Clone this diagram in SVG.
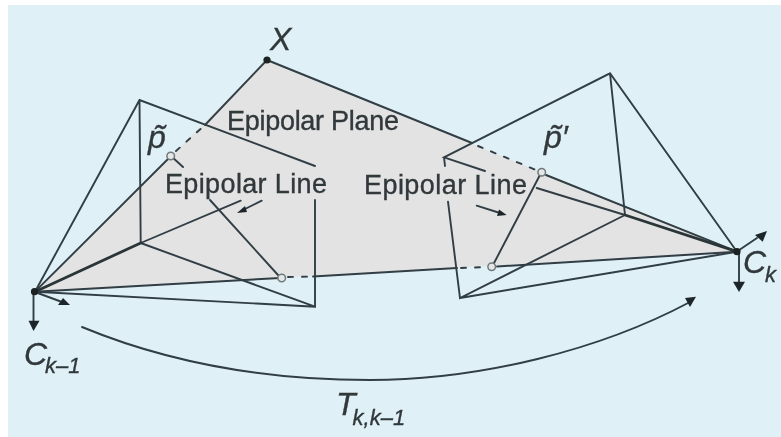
<svg xmlns="http://www.w3.org/2000/svg" width="781" height="437" viewBox="0 0 781 437">
<defs><filter id="soft" x="0" y="0" width="100%" height="100%"><feGaussianBlur stdDeviation="0.45"/></filter></defs>
<style>
.l{fill:none;stroke:#303e44;stroke-width:1.9;stroke-linecap:round}
.t{stroke-width:2.8;stroke:#2a3438}
.d{stroke-dasharray:5 9}
.h{fill:#1f2629;stroke:none}
.o{fill:#e6e6e6;stroke:#6f7a7c;stroke-width:1.5}
.k{fill:#1c2022;stroke:none}
text{font-family:"Liberation Sans",Arial,sans-serif;fill:#30373a;stroke:#30373a;stroke-width:.35}
.e{font-size:27px}
.i{font-style:italic;font-size:32px}
.s{font-style:italic;font-size:22px}
</style>
<rect width="781" height="437" fill="#fff"/>
<rect x="8" y="5" width="773" height="432" fill="#dff1f6"/>
<g id="diagram" filter="url(#soft)">
<polygon id="epipolar-plane" points="267,60 541.7,172.3 737,251.7 35,291.7 170.7,156" fill="#e3e3e3"/>
<g id="connectors">
<path class="l" d="M205,125L267,60M267,60L472,143M35,291.7L170,157M171,156L183,167M210,200L278,275"/>
<path class="l d" d="M176,151L205,125M478,146L536,170M288,277L313,276.5M461,268L488,267"/>
<path class="l" d="M35,291.7L280,278M313,276.5L457,268M497,266.5L737,251.7M546,175L737,251.7M541,173L493,265"/>
<path class="l" d="M35,291.7L139.5,100L315,166M139.5,100L140.7,243M140.7,243L240.7,200.7M140.7,243L315,306.7L315,200M35,291.7L315,306.7"/>
<path class="l t" d="M35,291.7L140.7,243"/>
<path class="l" d="M737,251.7L610,73.3L444,157.3L485,171M444,157.3L445,166M610,73.3L625,215M625,215L460,298L448,201.7M460,298L737,251.7M536.7,188L625,215"/>
<path class="l t" d="M625,215L737,251.7"/>
<path class="l" d="M261.7,200.7L244,209.5M476.7,205.7L500,213"/>
<polygon class="h" points="237,213 245,206 247,212"/>
<polygon class="h" points="506.7,215 497,216 499,209.5"/>
<path class="l" d="M82,327Q210,380 370,380C480,380 600,350 690,302"/>
<polygon class="h" points="696,296.7 685,298 690,307"/>
<path class="l" d="M33.5,292V322M35,292L62,302M739,253V283M737,251.5L757,238"/>
<polygon class="h" points="28.5,320.7 39.5,320.7 33.5,331"/>
<polygon class="h" points="58,305 70,305 63,298"/>
<polygon class="h" points="733,281.7 745,281.7 739,292"/>
<polygon class="h" points="755,235 767,231 762.7,241.7"/>
</g>
<g id="X"><circle class="k" cx="267" cy="60" r="3.6"/><text class="i" x="270" y="50">X</text></g>
<g id="C-k-1"><circle class="k" cx="34.5" cy="291.7" r="3.6"/><text class="i" x="24" y="365">C<tspan class="s" dy="8" dx="-2">k–1</tspan></text></g>
<g id="C-k"><circle class="k" cx="737" cy="251.7" r="3.6"/><text class="i" x="743" y="273">C<tspan class="s" dy="9" dx="-1">k</tspan></text></g>
<g id="p"><circle class="o" cx="170.7" cy="156" r="3.8"/><text class="i" x="148" y="148">p̃</text></g>
<g id="p-prime"><circle class="o" cx="541.7" cy="172.3" r="3.8"/><text class="i" x="544" y="148">p̃′</text></g>
<g id="p-left-epipole"><circle class="o" cx="281.7" cy="278" r="3.8"/></g>
<g id="p-right-epipole"><circle class="o" cx="491.7" cy="266.7" r="3.8"/></g>
<g id="T"><text class="i" x="336" y="415">T<tspan class="s" dy="10" dx="-3">k,k–1</tspan></text></g>
<g id="labels">
<text class="e" x="227" y="130" textLength="172">Epipolar Plane</text>
<text class="e" x="165" y="193" textLength="162">Epipolar Line</text>
<text class="e" x="364" y="194" textLength="163">Epipolar Line</text>
</g>
</g>
</svg>
